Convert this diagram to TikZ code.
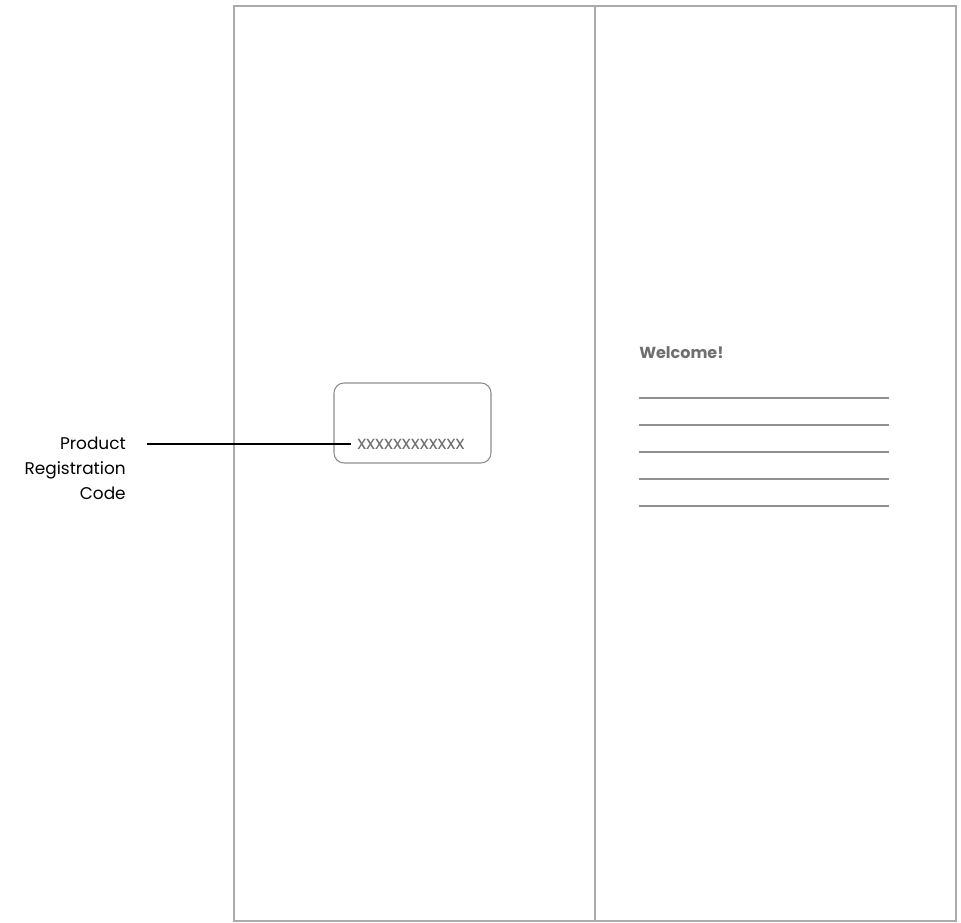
\documentclass[tikz,border=0pt]{standalone}
\usepackage{fontspec}
\setmainfont{Poppins}
\definecolor{framegray}{HTML}{ABABAB}
\definecolor{boxgray}{HTML}{8C8C8C}
\definecolor{txtgray}{HTML}{6E6E6E}
\definecolor{rulegray}{HTML}{8F8F8F}
\begin{document}
\begin{tikzpicture}[x=0.75pt,y=-0.75pt,
  frame/.style={draw=framegray,line width=1.1pt},
  rulel/.style={draw=rulegray,line width=0.8pt},
  lbl/.style={font=\fontsize{12.7}{18.75}\selectfont,align=right,anchor=east,inner sep=0pt}]
\useasboundingbox (0,0) rectangle (961,923);
% panels
\draw[frame] (234,6) rectangle (956,921);
\coordinate (mt) at (595,6);
\coordinate (mb) at (595,921);
\draw[frame] (mt) -- (mb);
% code box
\node[draw=boxgray,line width=0.8pt,rounded corners=7.5pt,minimum width=157*0.75pt,minimum height=80*0.75pt,inner sep=0pt] (box) at (412.5,423) {};
\node[text=txtgray,font=\fontsize{14}{16}\selectfont,anchor=west,inner sep=0pt] (code) at (357,444) {xxxxxxxxxxxx};
\node[lbl] (label) at (126,468) {Product\\Registration\\Code};
\coordinate (ls) at (147,444);
\draw[line width=1.2pt] (ls) -- ([xshift=-4.5pt]code.west);
% welcome panel
\node[text=txtgray,font=\fontsize{12}{14}\selectfont\bfseries,anchor=west,inner sep=0pt] (welcome) at (639,353) {Welcome!};
\foreach \y [count=\i] in {398,425,452,479,506}{
  \coordinate (a\i) at (639,\y);
  \coordinate (b\i) at (889,\y);
  \draw[rulel] (a\i) -- (b\i);
}
\end{tikzpicture}
\end{document}
